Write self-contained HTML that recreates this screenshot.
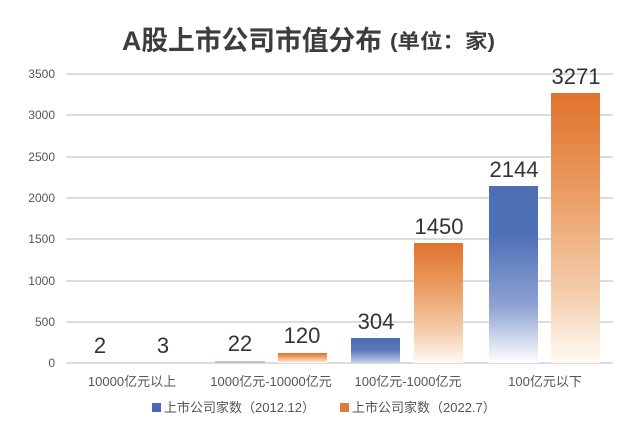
<!DOCTYPE html>
<html><head><meta charset="utf-8"><style>
html,body{margin:0;padding:0;background:#fff;}
svg{display:block;font-family:"Liberation Sans","Noto Sans CJK SC",sans-serif;}
</style></head><body>
<svg width="640" height="427" viewBox="0 0 640 427" xmlns="http://www.w3.org/2000/svg">
<defs>
<linearGradient id="bl" gradientUnits="userSpaceOnUse" x1="0" y1="80" x2="0" y2="363">
<stop offset="0" stop-color="#4a6bb3"/><stop offset="0.55" stop-color="#4f70b7"/><stop offset="0.8" stop-color="#8ea3d3"/><stop offset="1" stop-color="#ffffff"/></linearGradient>
<linearGradient id="blS" x1="0" y1="0" x2="0" y2="1">
<stop offset="0" stop-color="#4a6bb3"/><stop offset="0.5" stop-color="#5b79bb"/><stop offset="1" stop-color="#c6d0ea"/></linearGradient>
<linearGradient id="or" x1="0" y1="0" x2="0" y2="1">
<stop offset="0" stop-color="#e0722c"/><stop offset="0.35" stop-color="#eb9a5f"/><stop offset="0.75" stop-color="#f5cfae"/><stop offset="1" stop-color="#fffaf5"/></linearGradient>
</defs>
<text x="122" y="50" font-size="27" font-weight="bold" fill="#3d3d3d" textLength="260" lengthAdjust="spacingAndGlyphs">A股上市公司市值分布</text>
<text x="390" y="48" font-size="20" font-weight="bold" fill="#3d3d3d" textLength="105" lengthAdjust="spacingAndGlyphs">(单位：家)</text>
<g stroke="#dcdcdc" stroke-width="2">
<line x1="66" y1="74" x2="613" y2="74"/><line x1="66" y1="115" x2="613" y2="115"/>
<line x1="66" y1="157" x2="613" y2="157"/><line x1="66" y1="198" x2="613" y2="198"/>
<line x1="66" y1="239" x2="613" y2="239"/><line x1="66" y1="281" x2="613" y2="281"/>
<line x1="66" y1="322" x2="613" y2="322"/><line x1="66" y1="363" x2="613" y2="363"/>
</g>
<g font-size="12" fill="#555" text-anchor="end">
<text x="55" y="78">3500</text><text x="55" y="119">3000</text><text x="55" y="161">2500</text>
<text x="55" y="202">2000</text><text x="55" y="243">1500</text><text x="55" y="285">1000</text>
<text x="55" y="326">500</text><text x="55" y="367">0</text>
</g>
<rect x="215" y="361" width="50" height="2" fill="#b9c3dc"/>
<rect x="278" y="353" width="49" height="10" fill="url(#or)"/>
<rect x="351" y="338" width="49" height="25" fill="url(#blS)"/>
<rect x="414" y="243" width="49" height="120" fill="url(#or)"/>
<rect x="489" y="186" width="49" height="177" fill="url(#bl)"/>
<rect x="551" y="93" width="49" height="270" fill="url(#or)"/>
<g font-size="22" fill="#333" text-anchor="middle">
<text x="100" y="353">2</text><text x="163" y="353">3</text>
<text x="240" y="351">22</text><text x="302" y="343">120</text>
<text x="376" y="329">304</text><text x="439" y="234">1450</text>
<text x="514" y="177">2144</text><text x="576" y="84">3271</text>
</g>
<g font-size="13" fill="#555" text-anchor="middle">
<text x="132" y="386">10000亿元以上</text><text x="271" y="386">1000亿元-10000亿元</text>
<text x="408" y="386">100亿元-1000亿元</text><text x="545" y="386">100亿元以下</text>
</g>
<rect x="152" y="403" width="9" height="9" fill="#4a6bb3"/>
<text x="164" y="412" font-size="13" fill="#555">上市公司家数（2012.12）</text>
<rect x="340" y="403" width="9" height="9" fill="#e07a36"/>
<text x="352" y="412" font-size="13" fill="#555">上市公司家数（2022.7）</text>
</svg>
</body></html>
